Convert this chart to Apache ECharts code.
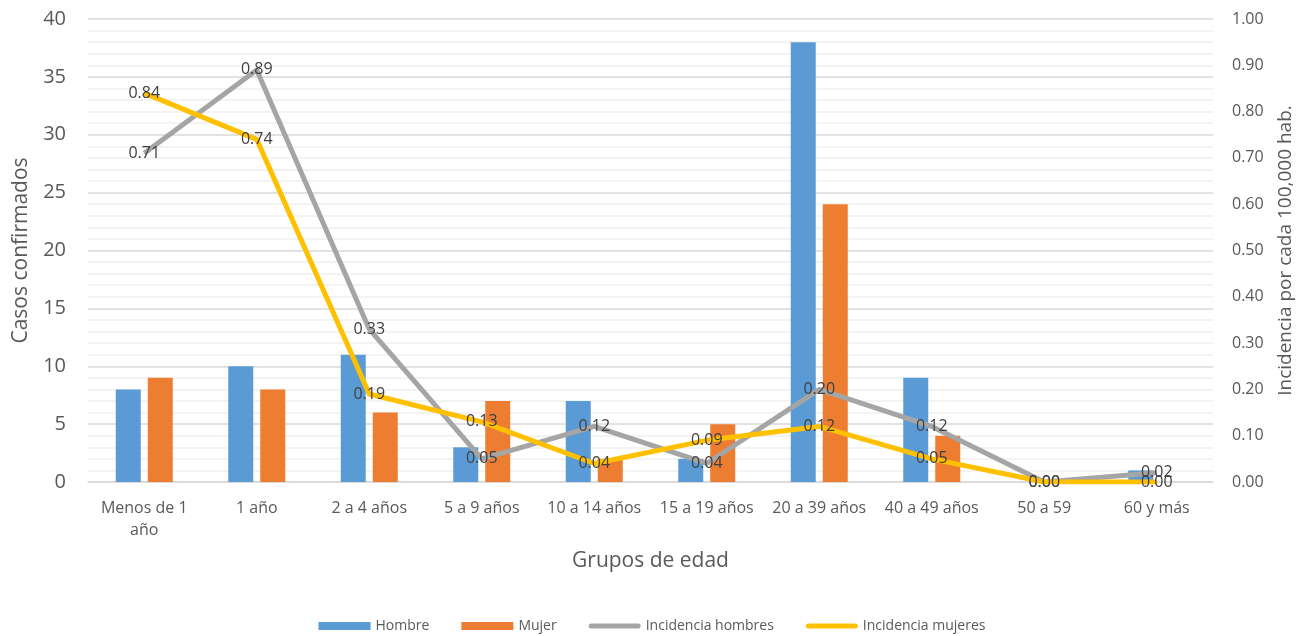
<!DOCTYPE html>
<html>
<head>
<meta charset="utf-8">
<script src="https://cdn.jsdelivr.net/npm/echarts@6/dist/echarts.min.js"></script>
<style>
  html, body { margin: 0; padding: 0; background: #ffffff; }
  #chart { width: 1304px; height: 636px; }
</style>
</head>
<body>
<div id="chart"></div>
<script>
const categories = ['Menos de 1 año', '1 año', '2 a 4 años', '5 a 9 años', '10 a 14 años', '15 a 19 años', '20 a 39 años', '40 a 49 años', '50 a 59', '60 y más'];
const hombre = [8, 10, 11, 3, 7, 2, 38, 9, 0, 1];
const mujer = [9, 8, 6, 7, 2, 5, 24, 4, 0, 0];
const incidenciaHombres = [0.71, 0.89, 0.33, 0.05, 0.12, 0.04, 0.20, 0.12, 0.00, 0.02];
const incidenciaMujeres = [0.84, 0.74, 0.19, 0.13, 0.04, 0.09, 0.12, 0.05, 0.00, 0.00];

const FONT = 'Open Sans';
const TXT = '#595959';
const lineIcon = 'path://M2.5,0 H49.5 A2.5,2.5 0 0 1 49.5,5 H2.5 A2.5,2.5 0 0 1 2.5,0 Z';

const chart = echarts.init(document.getElementById('chart'), null, { renderer: 'canvas' });
const lineLabel = {
  show: true,
  position: 'inside',
  color: '#404040',
  fontFamily: FONT,
  fontSize: 16,
  formatter: p => p.value.toFixed(2)
};
chart.setOption({
  animation: false,
  backgroundColor: '#ffffff',
  textStyle: { fontFamily: FONT },
  grid: { left: 88, right: 91, top: 19, bottom: 154, containLabel: false, outerBoundsMode: 'none' },
  legend: {
    top: 614,
    left: 'center',
    itemWidth: 52,
    itemHeight: 8,
    itemGap: 32,
    textStyle: { color: TXT, fontSize: 14, fontFamily: FONT },
    data: [
      { name: 'Hombre', icon: 'rect' },
      { name: 'Mujer', icon: 'rect' },
      { name: 'Incidencia hombres', icon: lineIcon },
      { name: 'Incidencia mujeres', icon: lineIcon }
    ]
  },
  xAxis: {
    type: 'category',
    data: categories,
    boundaryGap: true,
    name: 'Grupos de edad',
    nameLocation: 'middle',
    nameGap: 69,
    nameTextStyle: { color: TXT, fontSize: 21, fontFamily: FONT },
    axisLine: { lineStyle: { color: '#d9d9d9', width: 1.5 } },
    axisTick: { show: false },
    axisLabel: {
      color: TXT, fontSize: 16, fontFamily: FONT, margin: 15, interval: 0, lineHeight: 22,
      formatter: v => v === 'Menos de 1 año' ? 'Menos de 1\naño' : v
    }
  },
  yAxis: [
    {
      type: 'value',
      min: 0, max: 40, interval: 5,
      name: 'Casos confirmados',
      nameLocation: 'middle',
      nameGap: 56,
      nameTextStyle: { color: TXT, fontSize: 21, fontFamily: FONT },
      axisLine: { show: false },
      axisTick: { show: false },
      axisLabel: { color: TXT, fontSize: 20, fontFamily: FONT, margin: 22 },
      splitLine: { show: true, lineStyle: { color: '#d9d9d9', width: 1.5 } },
      minorTick: { show: false, splitNumber: 5 },
      minorSplitLine: { show: true, lineStyle: { color: '#f0f0f0', width: 1.5 } }
    },
    {
      type: 'value',
      min: 0, max: 1, interval: 0.1,
      name: 'Incidencia por cada 100,000 hab.',
      nameLocation: 'middle',
      nameGap: 63,
      nameRotate: 90,
      nameTextStyle: { color: TXT, fontSize: 19, fontFamily: FONT },
      axisLine: { show: false },
      axisTick: { show: false },
      splitLine: { show: false },
      axisLabel: { color: TXT, fontSize: 16, fontFamily: FONT, margin: 19, formatter: v => v.toFixed(2) }
    }
  ],
  series: [
    {
      name: 'Hombre', type: 'bar', yAxisIndex: 0, data: hombre,
      barWidth: 25, barGap: '28%',
      itemStyle: { color: '#5b9bd5' }
    },
    {
      name: 'Mujer', type: 'bar', yAxisIndex: 0, data: mujer,
      barWidth: 25, barGap: '28%',
      itemStyle: { color: '#ed7d31' }
    },
    {
      name: 'Incidencia hombres', type: 'line', yAxisIndex: 1, data: incidenciaHombres,
      symbol: 'circle', symbolSize: 1, showSymbol: true,
      lineStyle: { color: '#a5a5a5', width: 5, join: 'round' },
      itemStyle: { color: '#a5a5a5' },
      label: lineLabel, z: 3
    },
    {
      name: 'Incidencia mujeres', type: 'line', yAxisIndex: 1, data: incidenciaMujeres,
      symbol: 'circle', symbolSize: 1, showSymbol: true,
      lineStyle: { color: '#ffc000', width: 5, join: 'round' },
      itemStyle: { color: '#ffc000' },
      label: lineLabel, z: 4
    }
  ]
});
</script>
</body>
</html>
